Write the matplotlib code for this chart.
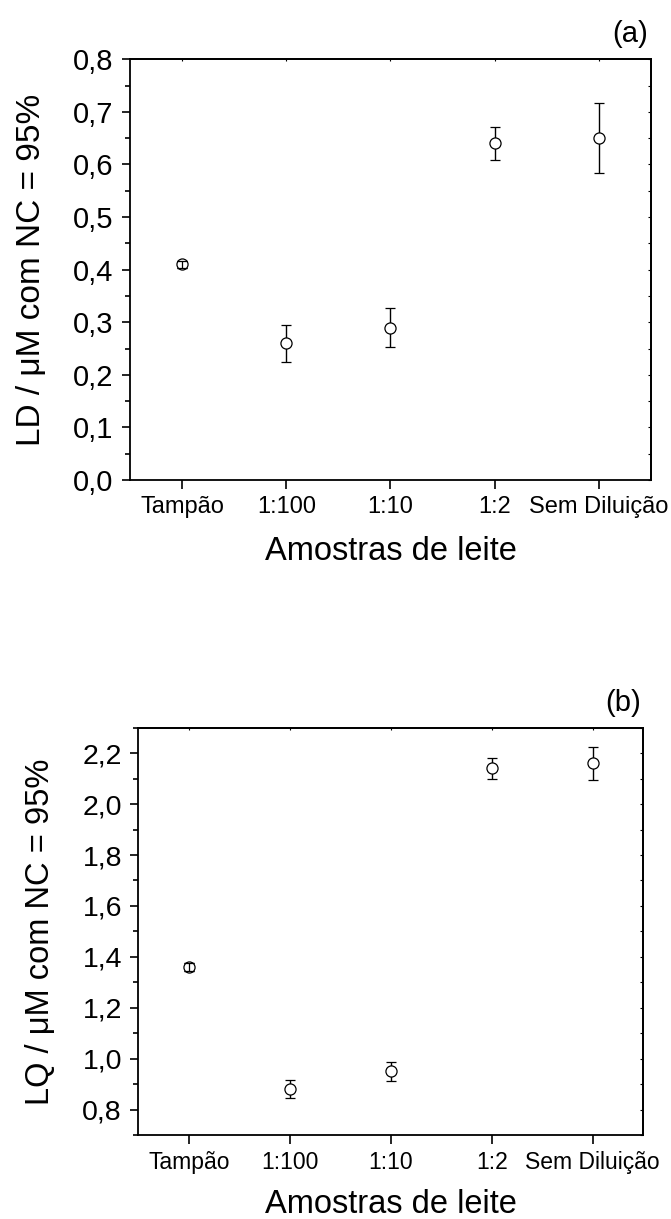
#!/usr/bin/python3

import numpy as np
import matplotlib
matplotlib.use('Agg')
import matplotlib.pyplot as plt
from matplotlib.ticker import MultipleLocator, FuncFormatter

plt.rcParams['font.family'] = ['Liberation Sans', 'DejaVu Sans']

categories = ['Tampão', '1:100', '1:10', '1:2', 'Sem Diluição']

# limite de detecção (a)
ld = [0.41, 0.26, 0.29, 0.64, 0.65]
ld_err = [0.007, 0.035, 0.038, 0.032, 0.066]

# limite de quantificação (b)
lq = [1.36, 0.88, 0.95, 2.14, 2.16]
lq_err = [0.015, 0.035, 0.038, 0.042, 0.066]


def comma(v, pos):
	return f'{v:.1f}'.replace('.', ',')


def panel(ax, values, errors, ylabel, tag, ylim, major, minor, sizes, label_x):
	x = np.arange(len(categories))
	ax.errorbar(x, values, yerr=errors, fmt='o', ms=8, mfc='white', mec='black',
		mew=0.9, ecolor='black', elinewidth=1.0, capsize=3.3, capthick=1.0)
	# the buffer point has a tiny bar, drawn over its marker
	ax.errorbar(x[:1], values[:1], yerr=errors[:1], fmt='none', ecolor='black',
		elinewidth=0.9, capsize=3.3, capthick=0.9, zorder=4)

	ax.set_xlim(-0.5, len(categories) - 0.5)
	ax.set_ylim(*ylim)
	ax.set_xticks(x)
	ax.set_xticklabels(categories, fontsize=sizes['xtick'])
	ax.yaxis.set_major_locator(MultipleLocator(major))
	ax.yaxis.set_minor_locator(MultipleLocator(minor))
	ax.yaxis.set_major_formatter(FuncFormatter(comma))
	ax.tick_params(axis='y', which='major', direction='out', length=5.8, width=1.2,
		labelsize=sizes['ytick'], pad=6)
	ax.tick_params(axis='y', which='minor', direction='out', length=3.4, width=1.2)
	ax.tick_params(axis='x', which='major', direction='out', length=6.2, width=1.2, pad=5)
	for s in ax.spines.values():
		s.set_linewidth(1.3)

	top = ax.secondary_xaxis('top')
	top.set_xticks(x)
	top.tick_params(direction='in', length=1.5, width=0.8, labeltop=False)
	top.spines['top'].set_linewidth(1.3)

	right = ax.secondary_yaxis('right')
	right.set_yticks(np.arange(ylim[0], ylim[1] + minor / 2, minor))
	right.tick_params(direction='in', length=2.5, width=0.8, labelright=False)
	right.spines['right'].set_linewidth(1.3)

	ax.set_ylabel(ylabel, fontsize=sizes['ylabel'])
	ax.yaxis.set_label_coords(label_x, 0.5)
	ax.set_xlabel('Amostras de leite', fontsize=sizes['xlabel'])
	ax.xaxis.set_label_coords(0.5, -0.133)
	ax.text(0.995, 1.06, tag, transform=ax.transAxes, ha='right', va='center',
		fontsize=sizes['tag'])


def main():
	fig = plt.figure(figsize=(6.71, 12.19), dpi=100)
	ax_a = fig.add_axes([0.1937, 0.6062, 0.7765, 0.3452])
	ax_b = fig.add_axes([0.2061, 0.0689, 0.7526, 0.3341])

	panel(ax_a, ld, ld_err, 'LD / μM com NC = 95%', '(a)', (0.0, 0.8), 0.1, 0.05,
		{'xtick': 17, 'ytick': 21, 'ylabel': 24, 'xlabel': 23.5, 'tag': 21}, -0.16)
	panel(ax_b, lq, lq_err, 'LQ / μM com NC = 95%', '(b)', (0.7, 2.3), 0.2, 0.1,
		{'xtick': 16.5, 'ytick': 20.5, 'ylabel': 23.5, 'xlabel': 23.5, 'tag': 21}, -0.163)

	fig.savefig('out.png', dpi=100)


if __name__ == '__main__':
	main()
